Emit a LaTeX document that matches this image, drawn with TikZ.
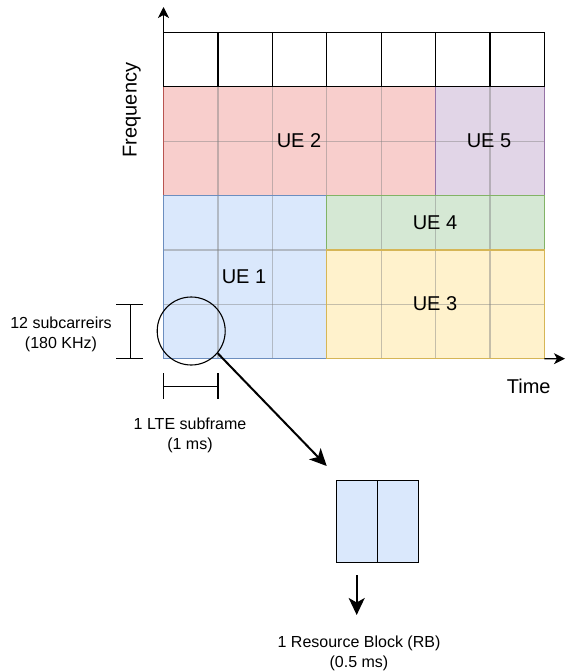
\documentclass[tikz,border=0pt]{standalone}
\usepackage{fontspec}
\setmainfont{Liberation Sans}
\usetikzlibrary{arrows.meta}

\definecolor{ueblueF}{HTML}{DAE8FC}\definecolor{ueblueD}{HTML}{6C8EBF}
\definecolor{ueredF}{HTML}{F8CECC}\definecolor{ueredD}{HTML}{B85450}
\definecolor{uegreenF}{HTML}{D5E8D4}\definecolor{uegreenD}{HTML}{82B366}
\definecolor{ueyellowF}{HTML}{FFF2CC}\definecolor{ueyellowD}{HTML}{D6B656}
\definecolor{uepurpleF}{HTML}{E1D5E7}\definecolor{uepurpleD}{HTML}{9673A6}

\tikzset{
  biglabel/.style={font=\fontsize{20}{24}\selectfont, inner sep=0pt, anchor=base},
  smalllabel/.style={font=\fontsize{16}{19.3}\selectfont, inner sep=0pt, align=center},
  cellline/.style={gray, opacity=0.45, line width=1.2pt},
  regionedge/.style={line width=1.2pt},
  axisarrow/.style={line width=1.1pt, -{Stealth[length=11pt,width=11pt,inset=3pt]}},
  bigarrow/.style={line width=2pt, -{Stealth[length=17pt,width=16pt,inset=4.5pt]}},
  bracketline/.style={line width=1.1pt},
  rbhalf/.style={draw, line width=1.2pt, fill=ueblueF, minimum width=41.2pt, minimum height=81.6pt, inner sep=0pt},
}

\begin{document}
\begin{tikzpicture}[x=1pt,y=-1pt]
\useasboundingbox (0,0) rectangle (565,672);

% resource grid: one unit = one cell
\begin{scope}[shift={(163.5,32.3)}, x=54.4pt, y=-54.4pt]
  % user allocations (fills)
  \fill[ueredF]    (0,1) rectangle (5,3);
  \fill[uepurpleF] (5,1) rectangle (7,3);
  \fill[ueblueF]   (0,3) rectangle (3,6);
  \fill[uegreenF]  (3,3) rectangle (7,4);
  \fill[ueyellowF] (3,4) rectangle (7,6);
  % cell lines
  \foreach \c in {1,...,6} \draw[cellline] (\c,1) -- (\c,6);
  \foreach \r in {2,...,5} \draw[cellline] (0,\r) -- (7,\r);
  % allocation borders
  \draw[regionedge, ueredD]    (0,1) rectangle (5,3);
  \draw[regionedge, uepurpleD] (5,1) rectangle (7,3);
  \draw[regionedge, ueblueD]   (0,3) rectangle (3,6);
  \draw[regionedge, uegreenD]  (3,3) rectangle (7,4);
  \draw[regionedge, ueyellowD] (3,4) rectangle (7,6);
  % top row of empty cells
  \foreach \c in {0,...,6} \draw[line width=1.2pt, fill=white] (\c,0) rectangle (\c+1,1);
  \coordinate (gridtl) at (0,0);
  \coordinate (gridbr) at (7,6);
\end{scope}

% axes
\coordinate (ftip) at (163.5,7);
\coordinate (ttip) at (565,358.7);
\draw[axisarrow] (gridtl) -- (ftip);
\draw[axisarrow] (gridbr) -- (ttip);
\node[biglabel, rotate=90] (freq) at (136.5,110) {Frequency};
\node[biglabel] (time) at (528.7,393.3) {Time};

% allocation labels
\node[biglabel] (ue2) at (299,147.7) {UE 2};
\node[biglabel] (ue5) at (489,147.7) {UE 5};
\node[biglabel] (ue4) at (435,229) {UE 4};
\node[biglabel] (ue1) at (244,283.3) {UE 1};
\node[biglabel] (ue3) at (435,310.7) {UE 3};

% dimension brackets
\draw[bracketline] (130.7,304.3) -- (130.7,358.7);
\draw[bracketline] (116,304.3) -- (143.3,304.3);
\draw[bracketline] (116,358.7) -- (143.3,358.7);
\node[smalllabel] (sub) at (61,334.5) {12 subcarreirs\\(180 KHz)};

\draw[bracketline] (163.5,386.7) -- (218,386.7);
\draw[bracketline] (163.5,373.3) -- (163.5,399.3);
\draw[bracketline] (218,373.3) -- (218,399.3);
\node[smalllabel] (frame) at (190,435.5) {1 LTE subframe\\(1 ms)};

% magnifier and resource block
\node[circle, draw, line width=1.1pt, minimum size=68pt, inner sep=0pt] (lens) at (191.2,331) {};
\coordinate (zoomtip) at (326.7,466);
\draw[bigarrow] (lens.-40) -- (zoomtip);

\node[rbhalf] (rbl) at (356.7,521.5) {};
\node[rbhalf] (rbr) at (397.9,521.5) {};

\coordinate (dstart) at (356.7,575);
\coordinate (dend) at (356.7,615);
\draw[bigarrow] (dstart) -- (dend);
\node[smalllabel] (rb) at (359,653.4) {1 Resource Block (RB)\\(0.5 ms)};
\end{tikzpicture}
\end{document}
